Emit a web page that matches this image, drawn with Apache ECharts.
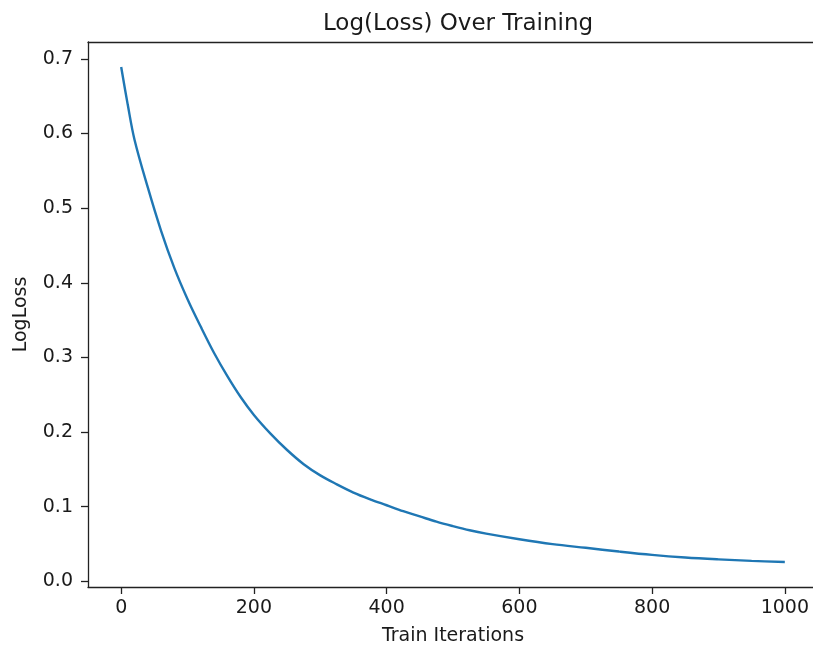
<!DOCTYPE html>
<html>
<head>
<meta charset="utf-8">
<script src="https://cdn.jsdelivr.net/npm/echarts@6/dist/echarts.min.js"></script>
<style>
html,body{margin:0;padding:0;background:#fff;}
#chart{width:813px;height:648px;}
</style>
</head>
<body>
<div id="chart"></div>
<script>
const iterations = [0,10,20,40,60,80,100,120,140,160,180,200,225,250,275,300,325,350,375,400,425,450,475,500,525,550,600,650,700,750,800,850,900,950,1000];
const logLoss = [0.689,0.638,0.592,0.528,0.470,0.420,0.378,0.341,0.306,0.275,0.247,0.223,0.198,0.176,0.157,0.142,0.130,0.119,0.110,0.102,0.094,0.087,0.080,0.0740,0.0685,0.0640,0.0565,0.050,0.045,0.040,0.0355,0.032,0.0295,0.0275,0.026];
const xTicks = [0,200,400,600,800,1000];
const yTicks = [0.0,0.1,0.2,0.3,0.4,0.5,0.6,0.7];

const chart = echarts.init(document.getElementById('chart'), null, {renderer:'canvas'});
const font = 'DejaVu Sans';
const txt = '#1a1a1a';
const axisColor = '#222';
chart.setOption({
  animation:false,
  backgroundColor:'#fff',
  title:{
    text:'Log(Loss) Over Training',
    left:453, textAlign:'center', top:8,
    textStyle:{fontFamily:font,fontSize:23,fontWeight:'normal',color:txt}
  },
  grid:{left:88, top:42, width:730, height:545, show:false,
    containLabel:false, outerBoundsMode:'none'},
  xAxis:[{
    type:'value', min:-50, max:1050, interval:50,
    name:'Train Iterations', nameLocation:'middle', nameGap:40,
    nameTextStyle:{fontFamily:font,fontSize:19,color:txt},
    axisLine:{show:true,onZero:false,lineStyle:{color:axisColor,width:1.3}},
    axisTick:{show:true,length:7,lineStyle:{color:axisColor,width:1.3},
      customValues:xTicks},
    axisLabel:{fontFamily:font,fontSize:19,color:txt,margin:12,
      customValues:xTicks, formatter:v=>String(v)},
    splitLine:{show:false}
  },{
    type:'value', position:'top', min:-50, max:1050,
    axisLine:{show:true,onZero:false,lineStyle:{color:axisColor,width:1.3}},
    axisTick:{show:false}, axisLabel:{show:false}, splitLine:{show:false}
  }],
  yAxis:{
    type:'value', min:-0.0075, max:0.7225,
    name:'LogLoss', nameLocation:'middle', nameGap:57,
    nameTextStyle:{fontFamily:font,fontSize:19,color:txt},
    axisLine:{show:true,onZero:false,lineStyle:{color:axisColor,width:1.3}},
    axisTick:{show:true,length:7,lineStyle:{color:axisColor,width:1.3},
      customValues:yTicks},
    axisLabel:{fontFamily:font,fontSize:19,color:txt,margin:15,
      customValues:yTicks, formatter:v=>v.toFixed(1)},
    splitLine:{show:false}
  },
  series:[{
    type:'line',
    xAxisIndex:0,
    data:iterations.map((x,i)=>[x,logLoss[i]]),
    showSymbol:false, symbol:'none',
    smooth:0.35,
    lineStyle:{color:'#1f77b4',width:2.4},
    clip:false
  }]
});
</script>
</body>
</html>
